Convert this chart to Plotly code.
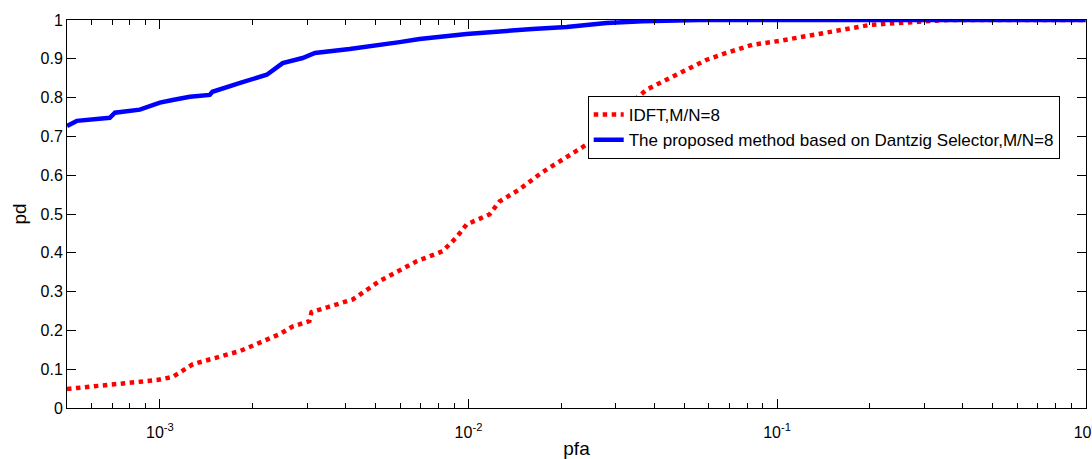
import plotly.graph_objects as go

# IDFT, M/N=8 (red dotted)
pfa_idft = [5.0e-4, 7.05e-4, 9.78e-4, 1.10e-3, 1.28e-3, 1.82e-3, 2.44e-3, 2.69e-3, 3.05e-3, 3.10e-3,
            4.22e-3, 5.15e-3, 6.79e-3, 8.24e-3, 9.15e-3, 9.86e-3, 1.17e-2, 1.26e-2, 1.46e-2, 1.73e-2,
            2.08e-2, 2.47e-2, 3.08e-2, 3.77e-2, 4.38e-2, 5.08e-2, 5.89e-2, 6.84e-2, 8.30e-2, 0.1014,
            0.130, 0.167, 0.199, 0.243, 0.288, 0.361, 1.0]
pd_idft = [0.049, 0.060, 0.072, 0.080, 0.113, 0.147, 0.190, 0.210, 0.224, 0.247,
           0.280, 0.327, 0.378, 0.404, 0.440, 0.473, 0.499, 0.532, 0.563, 0.607,
           0.648, 0.684, 0.760, 0.820, 0.846, 0.871, 0.897, 0.915, 0.936, 0.946,
           0.961, 0.979, 0.987, 0.992, 0.995, 1.0, 1.0]

# Proposed method (blue solid)
pfa_ds = [5.0e-4, 5.38e-4, 6.88e-4, 7.15e-4, 8.61e-4, 1.0e-3, 1.10e-3, 1.25e-3, 1.45e-3, 1.48e-3,
          1.82e-3, 2.22e-3, 2.50e-3, 2.90e-3, 3.18e-3, 4.12e-3, 5.98e-3, 6.94e-3, 9.86e-3, 1.17e-2,
          1.61e-2, 2.08e-2, 2.80e-2, 3.66e-2, 5.60e-2, 1.0]
pd_ds = [0.727, 0.740, 0.748, 0.761, 0.769, 0.787, 0.794, 0.802, 0.807, 0.815,
         0.838, 0.859, 0.889, 0.902, 0.915, 0.925, 0.943, 0.951, 0.964, 0.969,
         0.977, 0.982, 0.992, 0.997, 1.0, 1.0]

x_tickvals = [1e-3, 1e-2, 1e-1, 1]
x_ticktext = ["10<sup>-3</sup>", "10<sup>-2</sup>", "10<sup>-1</sup>", "10<sup>0</sup>"]
x_minor = [m * d for d in [1e-4, 1e-3, 1e-2, 1e-1] for m in range(2, 10)]
y_tickvals = [0, 0.1, 0.2, 0.3, 0.4, 0.5, 0.6, 0.7, 0.8, 0.9, 1]
y_ticktext = ["0", "0.1", "0.2", "0.3", "0.4", "0.5", "0.6", "0.7", "0.8", "0.9", "1"]

fig = go.Figure()
fig.add_trace(go.Scatter(x=pfa_idft, y=pd_idft, mode="lines", name="IDFT,M/N=8",
                         line=dict(color="#ff0000", width=4.5, dash="dot")))
fig.add_trace(go.Scatter(x=pfa_ds, y=pd_ds, mode="lines",
                         name="The proposed method based on Dantzig Selector,M/N=8",
                         line=dict(color="#0000ff", width=4.5)))

font = "Liberation Sans, Arial, sans-serif"
fig.update_layout(
    width=1092, height=459,
    margin=dict(l=67, r=6, t=20, b=51),
    paper_bgcolor="white", plot_bgcolor="white",
    font=dict(family=font, size=16, color="black"),
    showlegend=True,
    legend=dict(x=0.511, y=0.804, xanchor="left", yanchor="top",
                bgcolor="white", bordercolor="black", borderwidth=1,
                font=dict(size=17, family=font), tracegroupgap=0),
    xaxis=dict(type="log", range=[-3.301, 0.001], showgrid=False, zeroline=False,
               automargin=False, ticklabeloverflow="allow", ticklabelstandoff=10,
               showline=True, linecolor="black", linewidth=1, mirror="ticks",
               ticks="inside", ticklen=9, tickcolor="black",
               tickvals=x_tickvals, ticktext=x_ticktext,
               minor=dict(ticks="inside", ticklen=5, tickcolor="black", showgrid=False,
                          tickvals=x_minor),
               title=dict(text="pfa", font=dict(size=19), standoff=1)),
    yaxis=dict(range=[0, 1], showgrid=False, zeroline=False,
               automargin=False,
               showline=True, linecolor="black", linewidth=1, mirror="ticks",
               ticks="inside", ticklen=9, tickcolor="black",
               tickvals=y_tickvals, ticktext=y_ticktext,
               title=dict(text="pd", font=dict(size=19), standoff=8)),
)

fig.write_html("out.html", config={"displayModeBar": False},
               post_script="document.body.style.margin='0';document.body.style.overflow='hidden';")
